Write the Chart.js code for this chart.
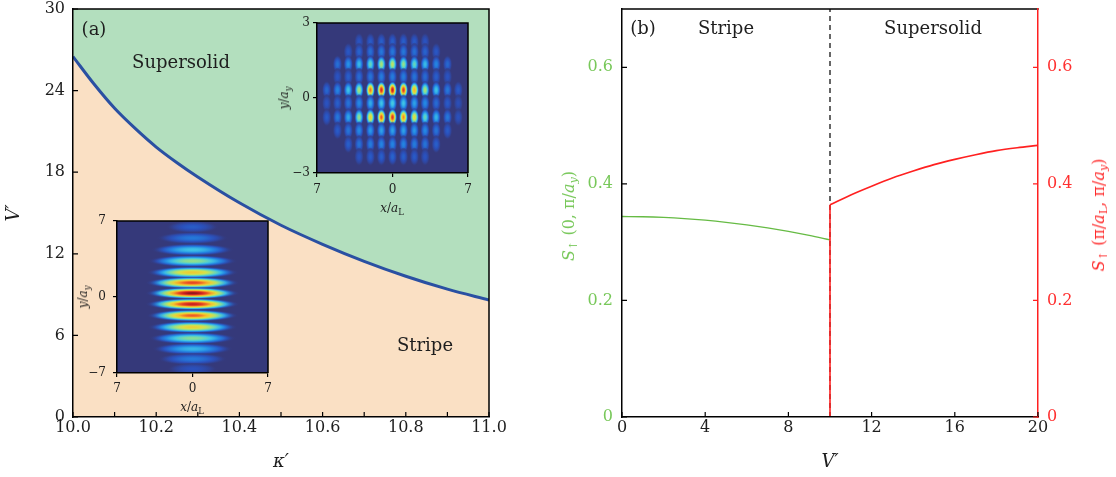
<!DOCTYPE html>
<html>
<head>
<meta charset="utf-8">
<script src="https://cdn.jsdelivr.net/npm/chart.js@4.4.1/dist/chart.umd.min.js"></script>
<style>
  html, body { margin: 0; padding: 0; background: #fff; }
  #wrap { position: relative; width: 1116px; height: 477px; overflow: hidden; font-family: "DejaVu Serif", serif; color: #1e1e1e; }
  #wrap canvas { position: absolute; }
  .lbl { position: absolute; white-space: nowrap; transform: translate(-50%, -50%); font-size: 18px; line-height: 1; }
  .rot { transform: translate(-50%, -50%) rotate(-90deg); }
  .sm { font-size: 12px; }
  .sub { font-size: 70%; vertical-align: -0.3em; line-height: 0; }
</style>
</head>
<body>
<div id="wrap">
  <canvas id="chartA" width="540" height="477" style="left:0;top:0"></canvas>
  <canvas id="chartB" width="576" height="477" style="left:540px;top:0"></canvas>
  <canvas id="insetStripe" width="210" height="205" style="left:70px;top:212px"></canvas>
  <canvas id="insetSolid" width="210" height="205" style="left:270px;top:14px"></canvas>

  <div class="lbl" style="left:94px;top:29px">(a)</div>
  <div class="lbl" style="left:181px;top:62px">Supersolid</div>
  <div class="lbl" style="left:425px;top:345px">Stripe</div>
  <div class="lbl" style="left:643px;top:28px">(b)</div>
  <div class="lbl" style="left:726px;top:28px">Stripe</div>
  <div class="lbl" style="left:933px;top:28px">Supersolid</div>

  <div class="lbl rot sm" style="left:83px;top:297px"><i>y</i>/<i>a<span class="sub">y</span></i></div>
  <div class="lbl sm" style="left:192px;top:407px"><i>x</i>/<i>a</i><span class="sub">L</span></div>
  <div class="lbl rot sm" style="left:284px;top:98px"><i>y</i>/<i>a<span class="sub">y</span></i></div>
  <div class="lbl sm" style="left:392px;top:208px"><i>x</i>/<i>a</i><span class="sub">L</span></div>

  <div class="lbl rot" style="left:569px;top:216px;font-size:16px;color:#78c85a"><i>S</i><span class="sub">↑</span> (0, π/<i>a<span class="sub">y</span></i>)</div>
  <div class="lbl rot" style="left:1099px;top:215px;font-size:16px;color:#ff2b2b"><i>S</i><span class="sub">↑</span> (π/<i>a</i><span class="sub">L</span>, π/<i>a<span class="sub">y</span></i>)</div>
</div>

<script>
// ---- panel (a): phase boundary V'_c(kappa')
const kappaVals = [10.0, 10.05, 10.1, 10.15, 10.2, 10.25, 10.3, 10.4, 10.5, 10.6, 10.7, 10.8, 10.9, 11.0];
const boundaryV = [26.5, 24.5, 22.7, 21.2, 19.85, 18.7, 17.65, 15.75, 14.1, 12.7, 11.45, 10.35, 9.4, 8.6];
const kappaTicks = [10.0, 10.1, 10.2, 10.3, 10.4, 10.5, 10.6, 10.7, 10.8, 10.9, 11.0];
const kappaTickLabels = ['10.0', '', '10.2', '', '10.4', '', '10.6', '', '10.8', '', '11.0'];
const vTicksA = [0, 6, 12, 18, 24, 30];

// ---- inset: stripe density (one entry per stripe)
const stripeY = [6.45, 5.43, 4.35, 3.31, 2.26, 1.31, 0.35, -0.66, -1.71, -2.78, -3.8, -4.78, -5.71, -6.63];
const stripeAmp = [0.15, 0.22, 0.38, 0.52, 0.7, 0.88, 1.0, 0.95, 0.85, 0.68, 0.5, 0.35, 0.22, 0.12];
const stripeHalfLen = [2.5, 3.4, 3.9, 4.2, 4.3, 4.4, 4.4, 4.4, 4.3, 4.2, 4.1, 3.8, 3.3, 2.4];
const stripeXTicks = [-7, 0, 7];
const stripeXLabels = ['7', '0', '7'];
const stripeYTicks = [-7, 0, 7];
const stripeYLabels = ['\u22127', '0', '7'];

// ---- inset: supersolid density (lattice of droplets)
const ssColX = [-6.1, -5.1, -4.1, -3.1, -2.05, -1.03, 0, 1.02, 2.03, 3.02, 4.05, 5.1, 6.1];
const ssRowY = [2.25, 1.85, 1.35, 0.85, 0.32, -0.21, -0.77, -1.3, -1.85, -2.35];
const ssAmp = [
  [0, 0, 0, 0.13, 0.15, 0.16, 0.16, 0.16, 0.15, 0.13, 0, 0, 0],
  [0, 0, 0.14, 0.17, 0.2, 0.22, 0.22, 0.22, 0.2, 0.17, 0.14, 0, 0],
  [0, 0.2, 0.28, 0.36, 0.45, 0.55, 0.58, 0.52, 0.45, 0.36, 0.25, 0.18, 0],
  [0, 0.13, 0.16, 0.19, 0.21, 0.23, 0.23, 0.23, 0.21, 0.19, 0.16, 0.13, 0],
  [0.18, 0.25, 0.38, 0.55, 0.82, 0.92, 0.95, 0.9, 0.75, 0.55, 0.38, 0.22, 0.15],
  [0.13, 0.16, 0.21, 0.26, 0.33, 0.38, 0.4, 0.38, 0.31, 0.26, 0.19, 0.15, 0.11],
  [0.15, 0.22, 0.32, 0.52, 0.68, 0.85, 0.9, 0.8, 0.65, 0.45, 0.35, 0.22, 0.12],
  [0, 0.15, 0.21, 0.26, 0.29, 0.31, 0.31, 0.31, 0.29, 0.26, 0.21, 0.15, 0],
  [0, 0, 0.16, 0.21, 0.23, 0.25, 0.25, 0.25, 0.23, 0.21, 0.16, 0, 0],
  [0, 0, 0, 0.13, 0.15, 0.16, 0.17, 0.16, 0.15, 0.13, 0, 0, 0]
];
const ssXTicks = [-7, 0, 7];
const ssXLabels = ['7', '0', '7'];
const ssYTicks = [-3, 0, 3];
const ssYLabels = ['\u22123', '0', '3'];

// ---- panel (b): structure factors vs V'
const vGreen = [0, 1, 2, 3, 4, 5, 6, 7, 8, 9, 10];
const sGreen = [0.344, 0.3436, 0.3424, 0.3404, 0.3376, 0.334, 0.3296, 0.3244, 0.3184, 0.3116, 0.304];
const vRed = [10, 11, 12, 13, 14, 15, 16, 17, 18, 19, 20];
const sRed = [0.364, 0.381, 0.396, 0.410, 0.422, 0.433, 0.442, 0.450, 0.457, 0.462, 0.466];
const transitionV = 10;
const sMax = 0.7;
const vTicksB = [0, 4, 8, 12, 16, 20];
const sTicks = [0, 0.2, 0.4, 0.6];
const sTickLabels = ['0', '0.2', '0.4', '0.6'];

const SERIF = 'DejaVu Serif';
const INK = '#1e1e1e';

// jet-like colour map used for the density insets
const CMAP = [
  [0.00, 53, 57, 122],
  [0.12, 42, 80, 188],
  [0.25, 35, 132, 226],
  [0.38, 62, 196, 230],
  [0.50, 135, 222, 150],
  [0.62, 218, 226, 70],
  [0.74, 246, 190, 42],
  [0.86, 236, 82, 36],
  [0.95, 200, 30, 30],
  [1.00, 140, 20, 25]
];

function cmap(v) {
  v = Math.max(0, Math.min(1, v));
  for (let i = 1; i < CMAP.length; i++) {
    if (v <= CMAP[i][0]) {
      const a = CMAP[i - 1], b = CMAP[i];
      const t = (v - a[0]) / (b[0] - a[0]);
      return [1, 2, 3].map(k => Math.round(a[k] + (b[k] - a[k]) * t));
    }
  }
  return CMAP[CMAP.length - 1].slice(1);
}

function drawBlob(ctx, cx, cy, rx, ry, amp) {
  ctx.save();
  ctx.translate(cx, cy);
  ctx.scale(rx, ry);
  const g = ctx.createRadialGradient(0, 0, 0, 0, 0, 1);
  for (let i = 0; i <= 10; i++) {
    const t = i / 10;
    const [r, gg, b] = cmap(amp * Math.pow(1 - t * t, 1.5));
    const al = t < 0.75 ? 1 : (1 - t) / 0.25;
    g.addColorStop(t, `rgba(${r},${gg},${b},${al})`);
  }
  ctx.fillStyle = g;
  ctx.beginPath();
  ctx.arc(0, 0, 1, 0, Math.PI * 2);
  ctx.fill();
  ctx.restore();
}

// draws the density blobs of dataset 0 through the chart scales
const blobPlugin = {
  id: 'blobs',
  beforeDatasetsDraw(chart) {
    const { ctx, chartArea: a, scales: { x, y } } = chart;
    ctx.save();
    ctx.beginPath();
    ctx.rect(a.left, a.top, a.width, a.height);
    ctx.clip();
    ctx.fillStyle = `rgb(${CMAP[0].slice(1).join(',')})`;
    ctx.fillRect(a.left, a.top, a.width, a.height);
    chart.data.datasets[0].data.forEach(p => {
      const cx = x.getPixelForValue(p.x), cy = y.getPixelForValue(p.y);
      const rx = Math.abs(x.getPixelForValue(p.x + p.w) - cx);
      const ry = Math.abs(y.getPixelForValue(p.y + p.h) - cy);
      drawBlob(ctx, cx, cy, rx, ry, p.amp);
    });
    ctx.restore();
  }
};

// top / right frame lines
const framePlugin = {
  id: 'frame',
  afterDatasetsDraw(chart, args, o) {
    const { ctx, chartArea: a } = chart;
    ctx.save();
    ctx.lineWidth = o.width || 1.5;
    ctx.strokeStyle = o.color || '#000';
    ctx.beginPath();
    if (o.top) { ctx.moveTo(a.left - 0.75, a.top); ctx.lineTo(a.right + 0.75, a.top); }
    if (o.right) { ctx.moveTo(a.right, a.top); ctx.lineTo(a.right, a.bottom); }
    ctx.stroke();
    ctx.restore();
  }
};

// tick marks pointing into the plot area
const inTicksPlugin = {
  id: 'inTicks',
  afterDraw(chart, args, o) {
    const { ctx, chartArea: a } = chart;
    (o.axes || []).forEach(ax => {
      const s = chart.scales[ax.id];
      ctx.save();
      ctx.strokeStyle = ax.color;
      ctx.lineWidth = 1.2;
      ctx.beginPath();
      s.ticks.forEach(t => {
        const p = s.getPixelForValue(t.value);
        if (s.position === 'bottom') { ctx.moveTo(p, a.bottom); ctx.lineTo(p, a.bottom - ax.len); }
        else if (s.position === 'left') { ctx.moveTo(a.left, p); ctx.lineTo(a.left + ax.len, p); }
        else if (s.position === 'right') { ctx.moveTo(a.right, p); ctx.lineTo(a.right - ax.len, p); }
      });
      ctx.stroke();
      ctx.restore();
    });
  }
};

Chart.defaults.font.family = SERIF;
Chart.defaults.animation = false;
Chart.defaults.devicePixelRatio = 1;

function fixTicks(values) {
  return scale => { scale.ticks = values.map(v => ({ value: v })); };
}
function fixWidth(w) {
  return s => { s.width = w; s.paddingTop = 0; s.paddingBottom = 0; };
}
function fixHeight(h) {
  return s => { s.height = h; s.paddingLeft = 0; s.paddingRight = 0; };
}

const noPlugins = { legend: { display: false }, tooltip: { enabled: false } };
const noGrid = { display: true, drawOnChartArea: false, drawTicks: false };

// ---------- panel (a)
const boundaryPts = kappaVals.map((k, i) => ({ x: k, y: boundaryV[i] }));

new Chart(document.getElementById('chartA'), {
  type: 'line',
  data: {
    datasets: [
      {
        data: boundaryPts,
        borderColor: '#2a50a2',
        borderWidth: 3,
        backgroundColor: '#fae0c4',
        fill: 'start',
        cubicInterpolationMode: 'monotone',
        pointRadius: 0,
        order: 0
      },
      {
        data: boundaryPts,
        borderColor: 'rgba(0,0,0,0)',
        borderWidth: 0,
        backgroundColor: '#b3dfbe',
        fill: 'end',
        cubicInterpolationMode: 'monotone',
        pointRadius: 0,
        order: 1
      }
    ]
  },
  plugins: [framePlugin, inTicksPlugin],
  options: {
    responsive: false,
    events: [],
    layout: { padding: { left: 0, top: 9, right: 51, bottom: 0 } },
    plugins: {
      ...noPlugins,
      frame: { top: true, right: true, width: 1.5 },
      inTicks: { axes: [{ id: 'x', color: '#000', len: 5 }, { id: 'y', color: '#000', len: 5 }] }
    },
    scales: {
      x: {
        type: 'linear', min: 10, max: 11,
        afterBuildTicks: fixTicks(kappaTicks),
        afterFit: fixHeight(60),
        grid: noGrid,
        border: { color: '#000', width: 1.5, z: 1 },
        ticks: { autoSkip: false, maxRotation: 0, padding: 1, color: INK, font: { size: 16 },
                 callback: (v, i) => kappaTickLabels[i] },
        title: { display: true, text: '\u03BA\u2032', color: INK, padding: { top: 0, bottom: 4 },
                 font: { size: 18, style: 'italic' } }
      },
      y: {
        type: 'linear', min: 0, max: 30,
        afterBuildTicks: fixTicks(vTicksA),
        afterFit: fixWidth(73),
        grid: noGrid,
        border: { color: '#000', width: 1.5, z: 1 },
        ticks: { padding: 8, color: INK, font: { size: 16 } },
        title: { display: true, text: 'V\u2032', color: INK, padding: { top: 4, bottom: 0 },
                 font: { size: 18, style: 'italic' } }
      }
    }
  }
});

// ---------- insets
function insetOptions(xTicks, xLabels, xMin, xMax, yTicks, yLabels, yMin, yMax, xH, yPad, xPad) {
  const axisCommon = {
    type: 'linear',
    grid: { drawOnChartArea: false, tickLength: 4, color: '#000', lineWidth: 1.2 },
    border: { color: '#000', width: 1.5, z: 1 }
  };
  return {
    responsive: false,
    events: [],
    layout: { padding: { left: 0, top: 9, right: 12, bottom: 0 } },
    plugins: { ...noPlugins, frame: { top: true, right: true, width: 1.5 } },
    scales: {
      x: { ...axisCommon, min: xMin, max: xMax,
           afterBuildTicks: fixTicks(xTicks), afterFit: fixHeight(xH),
           ticks: { autoSkip: false, maxRotation: 0, padding: xPad, color: INK, font: { size: 12 },
                    callback: (v, i) => xLabels[i] } },
      y: { ...axisCommon, min: yMin, max: yMax,
           afterBuildTicks: fixTicks(yTicks), afterFit: fixWidth(47),
           ticks: { padding: yPad, color: INK, font: { size: 12 },
                    callback: (v, i) => yLabels[i] } }
    }
  };
}

const stripePts = stripeY.map((y, i) => ({ x: 0, y: y, amp: stripeAmp[i], w: stripeHalfLen[i], h: 0.58 }));
new Chart(document.getElementById('insetStripe'), {
  type: 'scatter',
  data: { datasets: [{ data: stripePts, pointRadius: 0 }] },
  plugins: [blobPlugin, framePlugin],
  options: insetOptions(stripeXTicks, stripeXLabels, -7, 7, stripeYTicks, stripeYLabels, -7, 7, 44, 7, 5)
});

const solidPts = [];
ssRowY.forEach((y, r) => {
  ssColX.forEach((x, c) => {
    if (ssAmp[r][c] > 0) solidPts.push({ x: x, y: y, amp: ssAmp[r][c], w: 0.46, h: 0.38 });
  });
});
new Chart(document.getElementById('insetSolid'), {
  type: 'scatter',
  data: { datasets: [{ data: solidPts, pointRadius: 0 }] },
  plugins: [blobPlugin, framePlugin],
  options: insetOptions(ssXTicks, ssXLabels, -7, 7, ssYTicks, ssYLabels, -3, 3, 46, 3, 6)
});

// ---------- panel (b)
const GREEN = '#66bb44';
const RED = '#ff2020';

new Chart(document.getElementById('chartB'), {
  type: 'line',
  data: {
    datasets: [
      {
        data: vRed.map((v, i) => ({ x: v, y: sRed[i] })),
        yAxisID: 'y2', borderColor: RED, borderWidth: 1.6,
        cubicInterpolationMode: 'monotone', pointRadius: 0, order: 0
      },
      {
        data: [{ x: transitionV, y: 0 }, { x: transitionV, y: sRed[0] }],
        yAxisID: 'y2', borderColor: RED, borderWidth: 1.6, pointRadius: 0, order: 1
      },
      {
        data: vGreen.map((v, i) => ({ x: v, y: sGreen[i] })),
        yAxisID: 'y', borderColor: GREEN, borderWidth: 1.3,
        cubicInterpolationMode: 'monotone', pointRadius: 0, order: 2
      },
      {
        data: [{ x: transitionV, y: 0 }, { x: transitionV, y: sMax }],
        yAxisID: 'y', borderColor: '#000', borderWidth: 1.2, borderDash: [5, 4],
        pointRadius: 0, order: 3
      }
    ]
  },
  plugins: [framePlugin, inTicksPlugin],
  options: {
    responsive: false,
    events: [],
    layout: { padding: { left: 0, top: 9, right: 0, bottom: 0 } },
    plugins: {
      ...noPlugins,
      frame: { top: true, right: false, width: 1.5 },
      inTicks: { axes: [{ id: 'x', color: '#000', len: 5 }, { id: 'y', color: '#000', len: 5 },
                        { id: 'y2', color: RED, len: 5 }] }
    },
    scales: {
      x: {
        type: 'linear', min: 0, max: 20,
        afterBuildTicks: fixTicks(vTicksB),
        afterFit: fixHeight(60),
        grid: noGrid,
        border: { color: '#000', width: 1.5, z: 1 },
        ticks: { autoSkip: false, maxRotation: 0, padding: 1, color: INK, font: { size: 16 } },
        title: { display: true, text: 'V\u2032', color: INK, padding: { top: 0, bottom: 4 },
                 font: { size: 18, style: 'italic' } }
      },
      y: {
        type: 'linear', position: 'left', min: 0, max: sMax,
        afterBuildTicks: fixTicks(sTicks),
        afterFit: fixWidth(82),
        grid: noGrid,
        border: { color: '#000', width: 1.5, z: 1 },
        ticks: { padding: 9, color: '#78c85a', font: { size: 16 },
                 callback: (v, i) => sTickLabels[i] }
      },
      y2: {
        type: 'linear', position: 'right', min: 0, max: sMax,
        afterBuildTicks: fixTicks(sTicks),
        afterFit: fixWidth(78),
        grid: noGrid,
        border: { color: RED, width: 1.5, z: 1 },
        ticks: { padding: 9, color: '#ff3030', font: { size: 16 },
                 callback: (v, i) => sTickLabels[i] }
      }
    }
  }
});
</script>
</body>
</html>
